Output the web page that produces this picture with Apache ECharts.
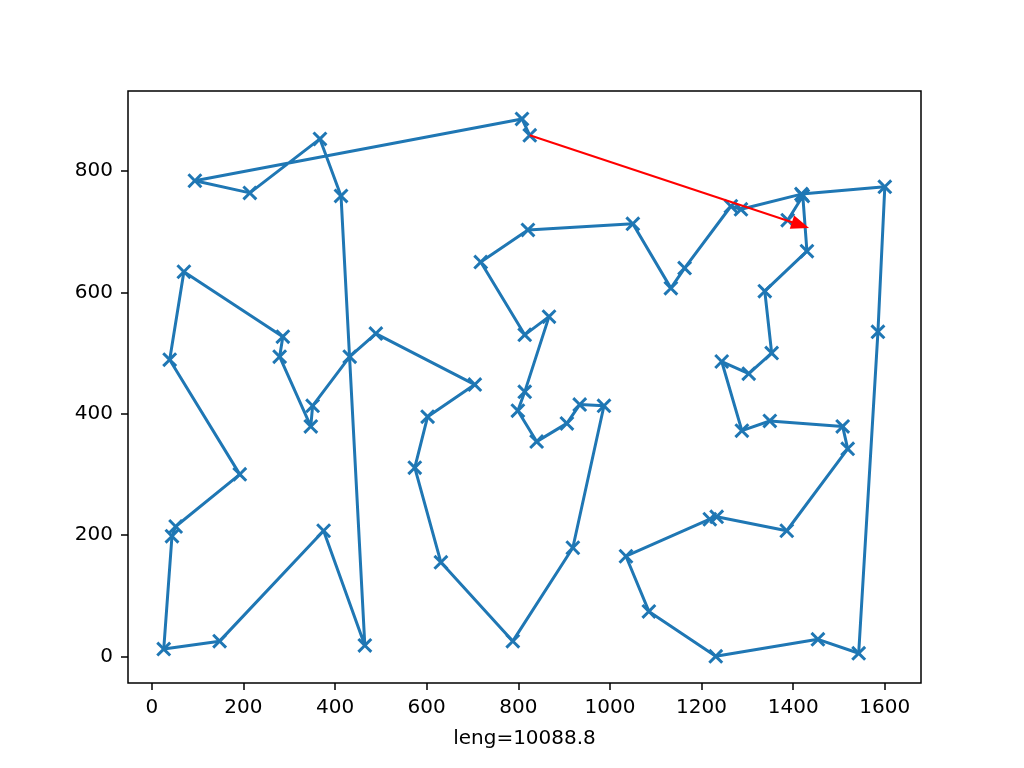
<!DOCTYPE html>
<html>
<head>
<meta charset="utf-8">
<title>TSP tour</title>
<script src="https://cdn.jsdelivr.net/npm/echarts@6.0.0/dist/echarts.min.js"></script>
<style>
  html, body { margin: 0; padding: 0; background: #fff; }
  #chart { width: 1024px; height: 768px; }
</style>
</head>
<body>
<div id="chart"></div>
<script>
"use strict";

// Tour order (city x / city y).
const tourX = [825, 808, 94, 214, 367, 413, 465, 375, 148, 26,
               44, 52, 192, 39, 70, 286, 279, 347, 351, 432,
               489, 705, 602, 574, 631, 788, 919, 987, 934, 906,
               840, 799, 814, 867, 814, 718, 821, 1050, 1133, 1163,
               1264, 1286, 1418, 1600, 1585, 1543, 1454, 1231, 1085, 1035,
               1218, 1233, 1386, 1519, 1508, 1349, 1288, 1244, 1303, 1353,
               1338, 1430, 1421, 1388];
const tourY = [859, 886, 784, 764, 853, 759, 18, 207, 25, 12,
               198, 214, 300, 489, 634, 527, 494, 379, 413, 494,
               532, 448, 395, 311, 155, 25, 179, 413, 415, 384,
               354, 405, 436, 560, 530, 650, 703, 713, 607, 640,
               742, 737, 762, 774, 535, 5, 28, 0, 74, 165,
               226, 230, 207, 342, 379, 388, 372, 486, 466, 500,
               602, 668, 759, 719];

// Red arrow: from the first city toward the last one (head tip past it).
const arrowFrom = [825, 859];
const arrowTo = [1416, 711];

const xTicks = [0, 200, 400, 600, 800, 1000, 1200, 1400, 1600];
const yTicks = [0, 200, 400, 600, 800];
const tourLength = "10088.8";

const BLUE = "#1f77b4";
const FONT = "DejaVu Sans, sans-serif";
const X_MARK = "path://M0,0.14L0.14,0L0.5,0.36L0.86,0L1,0.14L0.64,0.5L1,0.86L0.86,1L0.5,0.64L0.14,1L0,0.86L0.36,0.5Z";

const points = tourX.map((x, i) => [x, tourY[i]]);

const axisCommon = {
  axisLine: { show: false, onZero: false },
  splitLine: { show: false },
  axisTick: { show: true, inside: false, length: 7, lineStyle: { color: "#000", width: 1.5 } },
  axisLabel: { color: "#000", fontSize: 20, fontFamily: FONT, margin: 15, formatter: (v) => String(v) },
};

const chart = echarts.init(document.getElementById("chart"), null, { renderer: "canvas" });
chart.setOption({
  animation: false,
  backgroundColor: "#fff",
  textStyle: { fontFamily: FONT },
  grid: {
    left: 128, right: 103, top: 91, bottom: 85,
    show: true, borderColor: "#000", borderWidth: 1.5, backgroundColor: "transparent",
  },
  xAxis: {
    type: "value", min: -52, max: 1679,
    ...axisCommon,
    axisTick: { ...axisCommon.axisTick, customValues: xTicks },
    axisLabel: { ...axisCommon.axisLabel, customValues: xTicks },
    name: "leng=" + tourLength,
    nameLocation: "middle",
    nameGap: 46,
    nameTextStyle: { color: "#000", fontSize: 20, fontFamily: FONT },
  },
  yAxis: {
    type: "value", min: -44, max: 932,
    ...axisCommon,
    axisTick: { ...axisCommon.axisTick, customValues: yTicks },
    axisLabel: { ...axisCommon.axisLabel, customValues: yTicks },
  },
  series: [
    {
      type: "line",
      data: points,
      symbol: X_MARK,
      symbolSize: 15,
      showAllSymbol: true,
      itemStyle: { color: BLUE },
      lineStyle: { color: BLUE, width: 3 },
      z: 2,
      markLine: {
        silent: true,
        symbol: ["none", "triangle"],
        symbolSize: [14, 18],
        label: { show: false },
        lineStyle: { color: "#ff0000", width: 2, type: "solid" },
        data: [[{ coord: arrowFrom }, { coord: arrowTo }]],
      },
    },
  ],
});
</script>
</body>
</html>
